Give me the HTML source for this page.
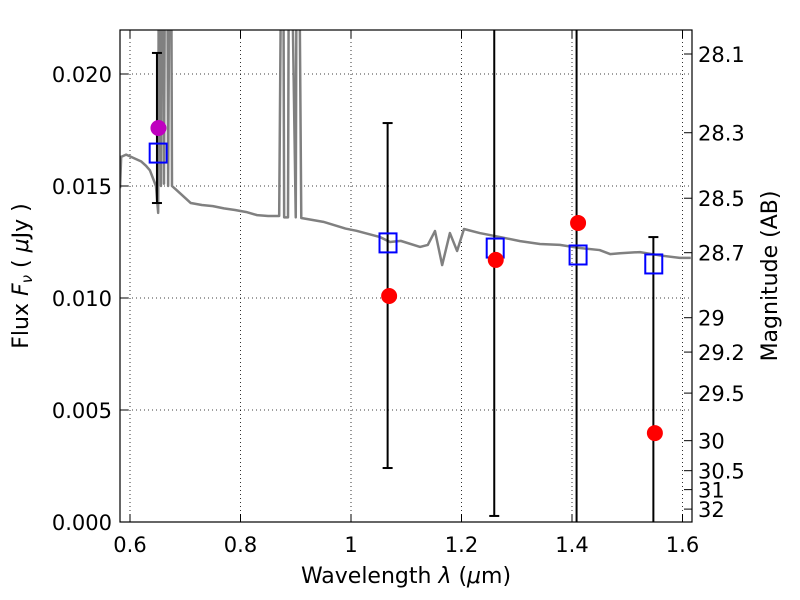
<!DOCTYPE html>
<html><head><meta charset="utf-8"><style>
html,body{margin:0;padding:0;background:#fff;width:800px;height:600px;overflow:hidden;}
svg{display:block;font-family:"DejaVu Sans","Liberation Sans",sans-serif;}
</style></head><body>
<svg id="chart" width="800" height="600">
<defs><clipPath id="clip"><rect x="120" y="30" width="572" height="492"/></clipPath></defs>
<rect x="0" y="0" width="800" height="600" fill="#fff"/>
<g id="grid"></g>
<g id="spec" clip-path="url(#clip)"></g>
<g id="marks" clip-path="url(#clip)"></g>
<rect x="120" y="30" width="572" height="492" fill="none" stroke="#000" stroke-width="1.2"/>
<g id="axes"></g>
<text x="406" y="583" font-size="22" text-anchor="middle">Wavelength  <tspan font-style="italic">λ</tspan> (<tspan font-style="italic">μ</tspan>m)</text>
<text transform="translate(28,276) rotate(-90)" font-size="22" text-anchor="middle">Flux  <tspan font-style="italic">F<tspan font-size="15" dy="4">ν</tspan></tspan><tspan dy="-4">  ( </tspan><tspan font-style="italic">μ</tspan>Jy )</text>
<text transform="translate(777,276) rotate(-90)" font-size="22" text-anchor="middle">Magnitude (AB)</text>
</svg>
<script>
const specLam=[0.582,0.584,0.593,0.602,0.611,0.620,0.629,0.636,0.647,0.651,0.6525,0.654,0.656,0.658,0.660,0.6615,0.664,0.667,0.669,0.6725,0.674,0.676,0.685,0.71,0.73,0.75,0.77,0.79,0.81,0.83,0.85,0.87,0.875,0.877,0.879,0.886,0.888,0.890,0.900,0.902,0.905,0.91,0.95,0.99,1.01,1.0525,1.0706,1.09,1.125,1.139,1.152,1.165,1.179,1.192,1.2045,1.233,1.27,1.306,1.342,1.378,1.414,1.45,1.469,1.487,1.523,1.559,1.595,1.615];
const specFlux=[0.0149,0.0163,0.0164,0.0163,0.0162,0.0161,0.0159,0.0157,0.0150,0.0138,0.030,0.030,0.0150,0.030,0.030,0.0151,0.030,0.030,0.0150,0.030,0.030,0.0150,0.0148,0.01424,0.01415,0.0141,0.0140,0.01393,0.01384,0.0137,0.01366,0.01366,0.030,0.030,0.0136,0.0136,0.030,0.030,0.0136,0.030,0.030,0.01357,0.0134,0.0131,0.0130,0.01272,0.0125,0.01255,0.01228,0.01237,0.01299,0.01147,0.0129,0.0121,0.01308,0.0129,0.01272,0.01254,0.01241,0.01237,0.01223,0.01214,0.01196,0.0120,0.01205,0.0119,0.01179,0.01179];
const obsLam=[0.6515,1.069,1.262,1.411,1.55];
const obsFlux=[0.01759,0.01009,0.0117,0.01335,0.00397];
const obsLo=[0.01424,0.00241,0.00027,-0.002,-0.005];
const obsHi=[0.02094,0.01781,0.026,0.026,0.01272];
const obsColor=["#bf00bf","#ff0000","#ff0000","#ff0000","#ff0000"];
const modLam=[0.651,1.067,1.261,1.411,1.548];
const modFlux=[0.01647,0.01246,0.01223,0.01192,0.01152];
const xTicks=[0.6,0.8,1.0,1.2,1.4,1.6];
const xTickLabels=["0.6","0.8","1","1.2","1.4","1.6"];
const yTicks=[0,0.005,0.010,0.015,0.020];
const yTickLabels=["0.000","0.005","0.010","0.015","0.020"];
const magTicks=[28.1,28.3,28.5,28.7,29,29.2,29.5,30,30.5,31,32];
const magLabels=["28.1","28.3","28.5","28.7","29","29.2","29.5","30","30.5","31","32"];

const X=l=>130+(l-0.6)*552.5;
const Y=f=>522-f*22400;
const magY=m=>Y(Math.pow(10,(23.9-m)/2.5));
const NS="http://www.w3.org/2000/svg";
function mk(tag,attrs,parent){const e=document.createElementNS(NS,tag);for(const k in attrs)e.setAttribute(k,attrs[k]);parent.appendChild(e);return e;}
const grid=document.getElementById('grid'),axes=document.getElementById('axes'),spec=document.getElementById('spec'),marks=document.getElementById('marks');
xTicks.forEach((t,i)=>{const x=X(t);
 let g=mk('line',{x1:x,x2:x,y1:30,y2:522,stroke:'#000','stroke-width':0.8,'stroke-dasharray':'1,3'},grid);
 
 mk('line',{x1:x,x2:x,y1:522,y2:514,stroke:'#000'},axes);mk('line',{x1:x,x2:x,y1:30,y2:38,stroke:'#000'},axes);
 let tx=mk('text',{x:x,y:552,'font-size':21,'text-anchor':'middle'},axes);tx.textContent=xTickLabels[i];
 });
yTicks.forEach((t,i)=>{const y=Y(t);
 let g=mk('line',{x1:120,x2:692,y1:y,y2:y,stroke:'#000','stroke-width':0.8,'stroke-dasharray':'1,3'},grid);
 
 mk('line',{x1:120,x2:128,y1:y,y2:y,stroke:'#000'},axes);
 let tx=mk('text',{x:112,y:y+8,'font-size':21,'text-anchor':'end'},axes);tx.textContent=yTickLabels[i];
 });
magTicks.forEach((m,i)=>{const y=magY(m);
 mk('line',{x1:692,x2:684,y1:y,y2:y,stroke:'#000'},axes);
 let tx=mk('text',{x:698,y:y+8,'font-size':21},axes);tx.textContent=magLabels[i];
 });
let pl=mk('polyline',{points:specLam.map((l,i)=>X(l)+','+Y(specFlux[i])).join(' '),fill:'none',stroke:'#808080','stroke-width':2.5,'stroke-linejoin':'round'},spec);

obsLam.forEach((l,i)=>{const x=X(l);
 let e=mk('g',{},marks);
 mk('line',{x1:x-1.5,x2:x-1.5,y1:Y(obsHi[i]),y2:Y(obsLo[i]),stroke:'#000','stroke-width':2},e);
 mk('line',{x1:x-6.5,x2:x+3.5,y1:Y(obsHi[i]),y2:Y(obsHi[i]),stroke:'#000','stroke-width':2},e);
 mk('line',{x1:x-6.5,x2:x+3.5,y1:Y(obsLo[i]),y2:Y(obsLo[i]),stroke:'#000','stroke-width':2},e);});
modLam.forEach((l,i)=>{let r=mk('rect',{x:X(l)-8.5,y:Y(modFlux[i])-9.5,width:17,height:19,fill:'none',stroke:'#0000ff','stroke-width':2},marks);
 });
obsLam.forEach((l,i)=>{let c=mk('circle',{cx:X(l),cy:Y(obsFlux[i]),r:8,fill:obsColor[i]},marks);
 });
</script>
</body></html>
